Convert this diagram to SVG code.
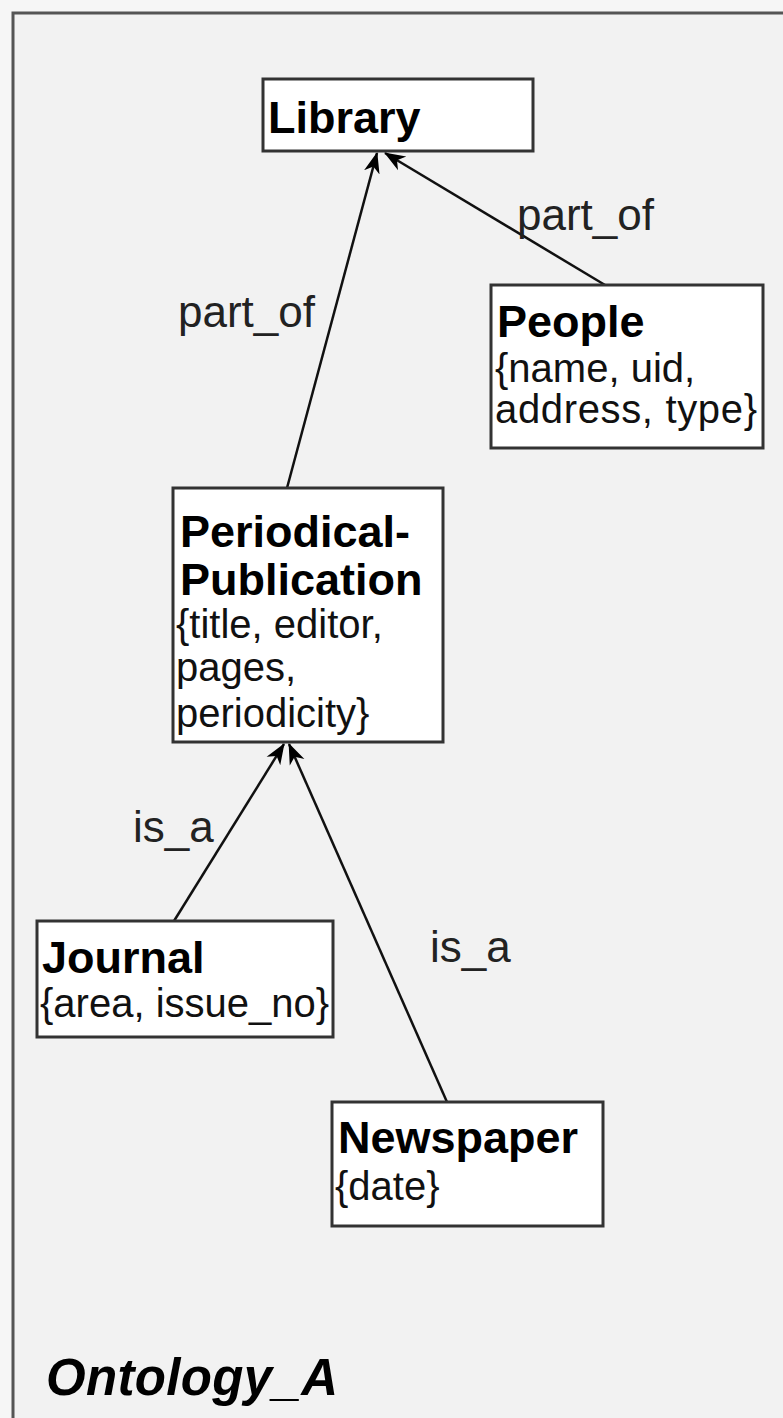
<svg xmlns="http://www.w3.org/2000/svg" width="783" height="1418" viewBox="0 0 783 1418">
<style>
.box{fill:#fff;stroke:#333;stroke-width:3}
.t{font-family:"Liberation Sans",Arial,sans-serif;font-weight:bold;font-size:45px;fill:#000}
.b{font-family:"Liberation Sans",Arial,sans-serif;font-size:40px;fill:#111}
.l{font-family:"Liberation Sans",Arial,sans-serif;font-size:44px;fill:#222}
.e{stroke:#111;stroke-width:2.5;fill:none;marker-end:url(#arr)}
</style>
<defs>
<marker id="arr" markerUnits="userSpaceOnUse" markerWidth="24" markerHeight="18" refX="20" refY="9" orient="auto">
<path d="M0,1 L21,9 L0,17 L6,9 z" fill="#000"/>
</marker>
</defs>
<rect x="0" y="0" width="783" height="1418" fill="#f6f6f6"/>
<rect x="13" y="13" width="800" height="1430" fill="#f2f2f2" stroke="#555" stroke-width="3"/>
<g id="connectors">
<line class="e" x1="287" y1="488" x2="377" y2="153"/>
<line class="e" x1="605" y1="285" x2="385" y2="153"/>
<line class="e" x1="174" y1="921" x2="284" y2="744"/>
<line class="e" x1="447" y1="1102" x2="289" y2="744"/>
<text class="l" x="178" y="327">part_of</text>
<text class="l" x="517" y="230">part_of</text>
<text class="l" x="133" y="842">is_a</text>
<text class="l" x="430" y="962">is_a</text>
</g>
<g id="library">
<rect class="box" x="263" y="79" width="270" height="72"/>
<text class="t" x="268" y="133">Library</text>
</g>
<g id="people">
<rect class="box" x="491" y="285" width="272" height="163"/>
<text class="t" x="497" y="337">People</text>
<text class="b" x="495" y="382">{name, uid,</text>
<text class="b" x="495" y="423" textLength="262">address, type}</text>
</g>
<g id="periodical">
<rect class="box" x="173" y="488" width="270" height="254"/>
<text class="t" x="180" y="547">Periodical-</text>
<text class="t" x="180" y="595">Publication</text>
<text class="b" x="176" y="638">{title, editor,</text>
<text class="b" x="176" y="681">pages,</text>
<text class="b" x="176" y="727">periodicity}</text>
</g>
<g id="journal">
<rect class="box" x="37" y="921" width="296" height="116"/>
<text class="t" x="42" y="973">Journal</text>
<text class="b" x="40" y="1017">{area, issue_no}</text>
</g>
<g id="newspaper">
<rect class="box" x="332" y="1102" width="271" height="124"/>
<text class="t" x="338" y="1153">Newspaper</text>
<text class="b" x="335" y="1200">{date}</text>
</g>
<text x="46" y="1395" font-family="Liberation Sans,Arial,sans-serif" font-weight="bold" font-style="italic" font-size="51" textLength="292" fill="#000">Ontology_A</text>
</svg>
